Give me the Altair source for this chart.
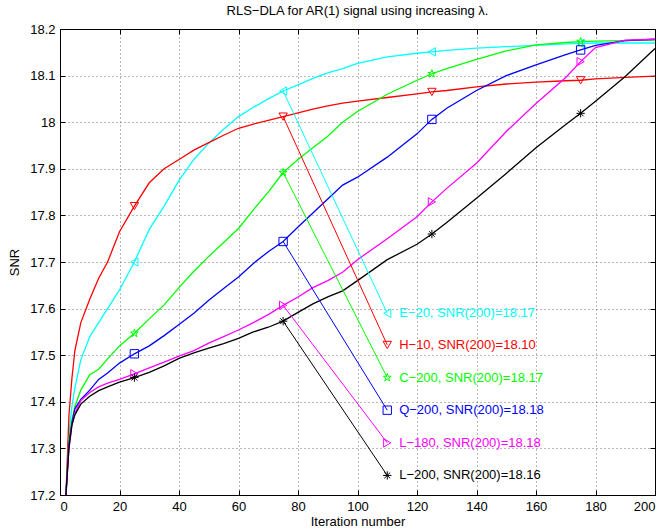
import altair as alt
import pandas as pd

TITLE = "RLS−DLA for AR(1) signal using increasing λ."
X_LABEL = "Iteration number"
Y_LABEL = "SNR"
X_TICKS = [0, 20, 40, 60, 80, 100, 120, 140, 160, 180, 200]
Y_TICKS = [17.2, 17.3, 17.4, 17.5, 17.6, 17.7, 17.8, 17.9, 18.0, 18.1, 18.2]

ITER = [2, 3, 4, 5, 7, 10, 13, 16, 20, 25, 30, 35, 40, 45, 50, 55, 60, 65, 70, 75,
        80, 85, 90, 95, 100, 110, 120, 125, 130, 140, 150, 160, 170, 175, 180, 190, 200]

SERIES = ["E−20", "H−10", "C−200", "Q−200", "L−180", "L−200"]
COLORS = ["#00ffff", "#ff0000", "#00ff00", "#0000ff", "#ff00ff", "#000000"]
LEGEND_TEXT = ["E−20, SNR(200)=18.17", "H−10, SNR(200)=18.10", "C−200, SNR(200)=18.17",
               "Q−200, SNR(200)=18.18", "L−180, SNR(200)=18.18", "L−200, SNR(200)=18.16"]

SNR_E20 = [17.2, 17.33, 17.39, 17.43, 17.49, 17.54, 17.57, 17.60, 17.64, 17.70, 17.77, 17.82, 17.875,
           17.92, 17.955, 17.985, 18.012, 18.032, 18.05, 18.067, 18.08, 18.094, 18.106, 18.115, 18.126,
           18.14, 18.148, 18.151, 18.154, 18.159, 18.162, 18.165, 18.168, 18.169, 18.17, 18.17, 18.17]
SNR_H10 = [17.2, 17.37, 17.45, 17.51, 17.57, 17.62, 17.665, 17.70, 17.765, 17.82, 17.87, 17.9, 17.92,
           17.94, 17.956, 17.972, 17.987, 17.996, 18.004, 18.012, 18.02, 18.028, 18.035, 18.041, 18.045,
           18.053, 18.061, 18.065, 18.068, 18.076, 18.082, 18.086, 18.089, 18.09, 18.093, 18.096, 18.099]
SNR_C200 = [17.2, 17.32, 17.36, 17.39, 17.425, 17.458, 17.47, 17.492, 17.52, 17.547, 17.578, 17.608,
            17.645, 17.68, 17.712, 17.742, 17.772, 17.812, 17.85, 17.892, 17.92, 17.945, 17.97, 18.0,
            18.023, 18.06, 18.09, 18.104, 18.115, 18.135, 18.153, 18.166, 18.171, 18.173, 18.174,
            18.175, 18.176]
SNR_Q200 = [17.2, 17.31, 17.355, 17.385, 17.405, 17.425, 17.448, 17.462, 17.483, 17.503, 17.52, 17.542,
            17.566, 17.59, 17.618, 17.643, 17.668, 17.697, 17.722, 17.744, 17.775, 17.805, 17.835,
            17.865, 17.882, 17.925, 17.975, 18.006, 18.03, 18.068, 18.1, 18.123, 18.145, 18.155,
            18.165, 18.175, 18.178]
SNR_L180 = [17.2, 17.3, 17.35, 17.375, 17.403, 17.42, 17.432, 17.44, 17.448, 17.46, 17.473, 17.485,
            17.498, 17.51, 17.526, 17.54, 17.554, 17.57, 17.587, 17.607, 17.625, 17.645, 17.66, 17.678,
            17.705, 17.75, 17.797, 17.829, 17.858, 17.912, 17.98, 18.04, 18.096, 18.13, 18.16, 18.176,
            18.178]
SNR_L200 = [17.2, 17.3, 17.35, 17.372, 17.395, 17.412, 17.424, 17.432, 17.442, 17.452, 17.463, 17.477,
            17.493, 17.505, 17.515, 17.525, 17.536, 17.55, 17.56, 17.573, 17.592, 17.61, 17.625, 17.638,
            17.66, 17.705, 17.738, 17.76, 17.785, 17.837, 17.89, 17.945, 17.995, 18.019, 18.045, 18.098,
            18.158]
SNR = [SNR_E20, SNR_H10, SNR_C200, SNR_Q200, SNR_L180, SNR_L200]

MARK_AT = [25, 75, 125, 175]
CALLOUT_FROM = 75
CALLOUT_X = 110
CALLOUT_Y = [17.59, 17.522, 17.452, 17.382, 17.312, 17.242]
TEXT_X = 114

STAR = ("M0,-1L0.225,-0.309L0.951,-0.309L0.363,0.118L0.588,0.809L0,0.382"
        "L-0.588,0.809L-0.363,0.118L-0.951,-0.309L-0.225,-0.309Z")
ASTERISK = "M-1,0L1,0M0,-1L0,1M-0.7,-0.7L0.7,0.7M-0.7,0.7L0.7,-0.7"
SHAPES = ["triangle-left", "triangle-down", STAR, "square", "triangle-right", ASTERISK]

FONT = "Liberation Sans"
W, H = 595, 466

rows = []
for name, vals in zip(SERIES, SNR):
    for xi, yi in zip(ITER, vals):
        rows.append({"series": name, "x": xi, "snr": yi})
lines_df = pd.DataFrame(rows)
marks_df = lines_df[lines_df["x"].isin(MARK_AT)].copy()

call_rows, pt_rows, txt_rows = [], [], []
for name, vals, cy, txt in zip(SERIES, SNR, CALLOUT_Y, LEGEND_TEXT):
    y0 = vals[ITER.index(CALLOUT_FROM)]
    call_rows.append({"series": name, "x": CALLOUT_FROM, "snr": y0, "k": 0})
    call_rows.append({"series": name, "x": CALLOUT_X, "snr": cy, "k": 1})
    pt_rows.append({"series": name, "x": CALLOUT_X, "snr": cy})
    txt_rows.append({"series": name, "x": TEXT_X, "snr": cy, "label": txt})
call_df = pd.DataFrame(call_rows)
pt_df = pd.DataFrame(pt_rows)
txt_df = pd.DataFrame(txt_rows)

xscale = alt.Scale(domain=[0, 200], nice=False)
yscale = alt.Scale(domain=[17.2, 18.2], nice=False, zero=False)
color = alt.Color("series:N", scale=alt.Scale(domain=SERIES, range=COLORS), legend=None)
shape = alt.Shape("series:N", scale=alt.Scale(domain=SERIES, range=SHAPES), legend=None)

grid_kw = dict(grid=True, gridDash=[1, 3], gridColor="#000000", gridOpacity=0.55, gridWidth=1)

main_x = alt.X("x:Q", scale=xscale, axis=alt.Axis(
    orient="bottom", values=X_TICKS, ticks=False, tickSize=0, domain=False, labelPadding=5,
    title=X_LABEL, titlePadding=2, format="d", **grid_kw))
main_y = alt.Y("snr:Q", scale=yscale, axis=alt.Axis(
    orient="left", values=Y_TICKS, ticks=False, tickSize=0, domain=False, labelPadding=5,
    title=Y_LABEL, titlePadding=8, format="~g", **grid_kw))

lines = alt.Chart(lines_df).mark_line(strokeWidth=1.3).encode(
    x=main_x, y=main_y, color=color, detail="series:N", order="x:Q")


def tick_axis(orient, offset, values):
    return alt.Axis(orient=orient, offset=offset, values=values, labels=False, ticks=True,
                    tickSize=5, tickColor="#000000", domain=False, grid=False, title=None)


ticks1 = alt.Chart(lines_df).mark_point(opacity=0).encode(
    x=alt.X("x:Q", scale=xscale, axis=tick_axis("top", -H, X_TICKS)),
    y=alt.Y("snr:Q", scale=yscale, axis=tick_axis("right", -W, Y_TICKS)))
ticks2 = alt.Chart(lines_df).mark_point(opacity=0).encode(
    x=alt.X("x:Q", scale=xscale, axis=tick_axis("bottom", -H, X_TICKS)),
    y=alt.Y("snr:Q", scale=yscale, axis=tick_axis("left", -W, Y_TICKS)))

callouts = alt.Chart(call_df).mark_line(strokeWidth=1).encode(
    x=alt.X("x:Q", scale=xscale, axis=None),
    y=alt.Y("snr:Q", scale=yscale, axis=None),
    color=color, detail="series:N", order="k:Q")

markers = alt.Chart(marks_df).mark_point(filled=False, strokeWidth=1, size=70, opacity=1).encode(
    x=alt.X("x:Q", scale=xscale, axis=None),
    y=alt.Y("snr:Q", scale=yscale, axis=None),
    color=color, shape=shape)

callout_pts = alt.Chart(pt_df).mark_point(filled=False, strokeWidth=1, size=70, opacity=1).encode(
    x=alt.X("x:Q", scale=xscale, axis=None),
    y=alt.Y("snr:Q", scale=yscale, axis=None),
    color=color, shape=shape)

texts = alt.Chart(txt_df).mark_text(align="left", baseline="middle", font=FONT, fontSize=13).encode(
    x=alt.X("x:Q", scale=xscale, axis=None),
    y=alt.Y("snr:Q", scale=yscale, axis=None),
    text="label:N", color=color)

chart = alt.layer(lines, ticks1, ticks2, callouts, markers, callout_pts, texts).resolve_axis(
    x="independent", y="independent"
).properties(
    width=W, height=H,
    title=alt.TitleParams(TITLE, font=FONT, fontSize=13, fontWeight="normal", anchor="middle",
                          color="#000000", offset=5),
    autosize=alt.AutoSizeParams(type="none"),
    padding={"left": 60, "top": 29, "right": 8, "bottom": 35},
).configure_view(
    stroke="#000000", strokeWidth=1
).configure_axis(
    labelFont=FONT, titleFont=FONT, labelFontSize=13, titleFontSize=13,
    titleFontWeight="normal", labelColor="#000000", titleColor="#000000"
)

chart.save("out.html", embed_options={"renderer": "svg", "actions": False})
